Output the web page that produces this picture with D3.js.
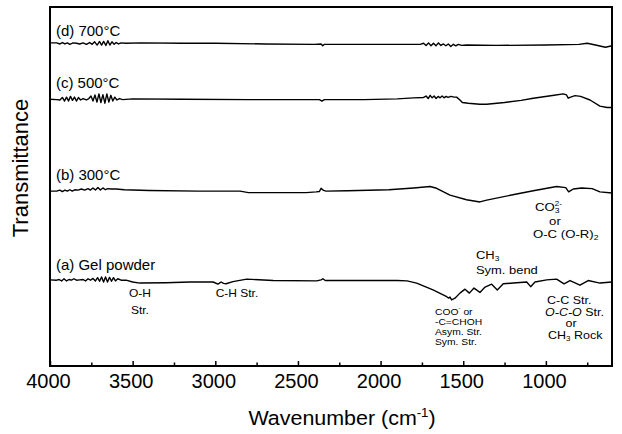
<!DOCTYPE html>
<html>
<head>
<meta charset="utf-8">
<script src="https://cdn.jsdelivr.net/npm/d3@7/dist/d3.min.js"></script>
<style>
  body { margin: 0; background: #fff; }
  svg { font-family: "Liberation Sans", Arial, sans-serif; }
</style>
</head>
<body>
<svg id="grafica" width="622" height="434"></svg>
<script>
// spectra: [wavenumber (cm-1), transmittance (a.u., offset per sample)]
var gelPowder = [
  [4000,24.0],[3960,23.9],[3945,24.1],[3930,23.7],[3915,24.3],[3900,23.7],[3885,24.1],[3870,23.9],
  [3855,24.3],[3840,23.9],[3820,24.0],[3800,24.1],[3785,23.7],[3770,24.3],[3755,23.9],[3740,24.4],
  [3725,23.7],[3712,24.6],[3700,23.6],[3688,24.8],[3676,23.4],[3664,24.8],[3652,23.4],[3640,24.7],
  [3628,23.6],[3616,24.6],[3604,23.7],[3590,24.3],[3570,23.9],[3540,23.9],[3500,23.4],[3456,23.1],
  [3300,23.2],[3153,23.4],[3013,23.4],[2984,22.8],[2965,23.4],[2950,23.0],[2935,22.9],[2893,23.5],
  [2810,24.2],[2650,23.8],[2386,23.7],[2360,24.0],[2349,24.3],[2335,23.8],[2100,23.8],[1900,23.8],
  [1840,23.7],[1782,23.1],[1683,21.2],[1600,19.3],[1588,18.9],[1580,19.2],[1570,18.4],[1550,18.9],
  [1520,20.3],[1489,21.4],[1463,20.3],[1435,21.7],[1399,20.5],[1368,22.0],[1328,22.8],[1294,21.2],
  [1258,22.9],[1197,23.1],[1116,23.4],[1092,22.1],[1066,23.4],[995,24.0],[935,24.2],[890,22.9],
  [854,23.8],[794,22.5],[744,23.8],[673,23.1],[600,23.4]
];
var heat300 = [
  [4000,48.7],[3960,48.7],[3940,49.0],[3925,48.6],[3910,49.0],[3895,48.7],[3880,49.1],[3865,48.7],
  [3850,49.1],[3830,49.0],[3810,49.3],[3790,49.0],[3770,49.4],[3755,49.0],[3740,49.6],[3725,49.0],
  [3710,49.7],[3695,49.0],[3680,49.6],[3665,49.1],[3650,49.4],[3630,49.3],[3600,49.3],[3550,49.1],
  [3400,48.9],[3100,48.7],[2850,48.7],[2800,48.3],[2450,48.3],[2390,48.5],[2370,48.6],[2360,49.5],
  [2345,48.9],[2330,48.7],[2200,48.8],[1950,49.1],[1800,49.6],[1701,50.0],[1661,49.5],[1580,47.6],
  [1480,46.3],[1399,45.7],[1358,46.2],[1177,47.9],[1076,48.8],[935,50.0],[880,49.7],[862,48.5],
  [848,48.9],[834,49.3],[784,49.6],[720,49.4],[673,48.5],[600,48.2]
];
var heat500 = [
  [4000,74.3],[3960,74.2],[3940,74.1],[3925,74.8],[3912,73.8],[3900,74.9],[3888,73.8],[3876,75.1],
  [3864,74.0],[3852,74.9],[3840,73.8],[3828,74.8],[3815,74.1],[3800,74.5],[3780,74.1],[3765,74.5],
  [3752,75.2],[3740,73.8],[3728,75.5],[3716,73.5],[3704,75.8],[3692,73.4],[3680,75.6],[3668,73.2],
  [3656,75.8],[3644,73.5],[3632,75.4],[3620,73.8],[3608,74.9],[3595,74.1],[3580,74.5],[3560,74.2],
  [3500,74.4],[3200,74.3],[2800,74.2],[2500,74.2],[2370,74.2],[2355,73.8],[2340,74.2],[2100,74.2],
  [1900,74.4],[1800,74.7],[1740,74.8],[1725,75.2],[1712,74.5],[1700,75.4],[1688,74.7],[1676,75.2],
  [1664,74.5],[1652,75.1],[1640,74.7],[1628,75.2],[1616,74.7],[1604,75.1],[1592,74.8],[1575,75.1],
  [1555,74.9],[1540,74.9],[1520,74.1],[1505,73.4],[1470,73.2],[1400,72.9],[1358,72.9],[1250,73.4],
  [1150,74.0],[1076,74.6],[950,75.4],[895,75.8],[875,75.5],[865,74.6],[850,74.9],[824,75.3],
  [790,75.1],[733,74.1],[673,72.4],[630,72.0],[600,72.0]
];
var heat700 = [
  [4000,90.0],[3960,90.0],[3940,89.7],[3925,90.1],[3910,89.7],[3895,90.0],[3880,89.6],[3860,90.0],
  [3840,89.9],[3820,89.7],[3800,90.0],[3780,89.6],[3760,90.1],[3745,89.6],[3730,90.3],[3715,89.4],
  [3700,90.4],[3688,89.4],[3675,90.4],[3662,89.3],[3650,90.6],[3638,89.4],[3625,90.3],[3612,89.6],
  [3600,90.1],[3585,89.7],[3570,90.0],[3540,89.9],[3450,90.0],[3200,89.9],[3000,89.9],[2700,89.7],
  [2400,89.6],[2360,89.7],[2350,89.2],[2340,89.6],[2100,89.6],[1900,89.6],[1760,89.6],[1740,89.9],
  [1725,89.3],[1710,90.0],[1695,89.2],[1680,89.9],[1665,89.2],[1650,90.0],[1635,89.3],[1620,89.7],
  [1605,89.2],[1590,89.7],[1575,89.0],[1560,89.6],[1545,89.2],[1530,89.6],[1510,89.3],[1480,89.4],
  [1300,89.3],[1000,89.4],[800,89.6],[750,89.9],[700,89.4],[640,88.8],[600,89.2]
];

var seriesNames = ["(a) Gel powder", "(b) 300\u00B0C", "(c) 500\u00B0C", "(d) 700\u00B0C"];
var seriesData = [gelPowder, heat300, heat500, heat700];

var majorTicks = [4000, 3500, 3000, 2500, 2000, 1500, 1000];
var minorTicks = [3750, 3250, 2750, 2250, 1750, 1250, 750];

// band assignments: [wavenumber, transmittance, anchor, size, text]  (_x sub, ^x sup, *x* italic)
var bandNotes = [
  [3456, 19.2, "middle", 10, "O-H"],
  [3456, 14.5, "middle", 10, "Str."],
  [2869, 19.2, "middle", 10, "C-H Str."],
  [1423, 29.8, "start", 10.8, "CH_3"],
  [1423, 25.6, "start", 10.8, "Sym. bend"],
  [1066, 43.2, "start", 11, "CO_3^2-"],
  [945, 39.4, "middle", 11, "or"],
  [1078, 35.7, "start", 11, "O-C (O-R)_2"],
  [1671, 14.2, "start", 8.6, "COO^- or"],
  [1671, 11.4, "start", 8.6, "-C=CHOH"],
  [1671, 8.6, "start", 8.6, "Asym. Str."],
  [1671, 5.8, "start", 8.6, "Sym. Str."],
  [993, 17.3, "start", 10.4, "C-C Str."],
  [1005, 14.0, "start", 10.4, "*O-C-O* Str."],
  [848, 10.8, "middle", 10.4, "or"],
  [987, 7.4, "start", 10.4, "CH_3 Rock"]
];

var svg = d3.select("#grafica"),
    margin = {top: 7, right: 10, bottom: 68, left: 50},
    width = +svg.attr("width"),
    height = +svg.attr("height");

var x = d3.scaleLinear()
  .domain([4000, 600])
  .range([margin.left, width - margin.right])

var y = d3.scaleLinear()
  .domain([0, 100])
  .range([height - margin.bottom, margin.top])

var line = d3.line()
  .x(d => x(d[0]))
  .y(d => y(d[1]))

svg.selectAll(".spectrum")
  .data(seriesData)
  .enter().append("path")
    .attr("class", "spectrum")
    .attr("fill", "none")
    .attr("stroke", "#000")
    .attr("stroke-width", 1.4)
    .attr("stroke-linejoin", "round")
    .attr("d", line)

// sample labels sit just above the start of each trace
var labelGap = [9.5, 11, 11, 7]
svg.selectAll(".name")
  .data(seriesNames)
  .enter().append("text")
    .attr("class", "name")
    .attr("x", x(3964))
    .attr("y", (d, i) => y(seriesData[i][0][1]) - labelGap[i])
    .attr("font-size", 15)
    .text(d => d)

// bottom axis, ticks pointing into the frame
var xAxis = svg.append("g")
  .attr("transform", `translate(0,${height - margin.bottom})`)
  .call(d3.axisBottom(x).tickValues(majorTicks).tickSizeInner(-5).tickSizeOuter(0).tickPadding(8).tickFormat(d3.format("d")))

xAxis.select(".domain").remove()
xAxis.selectAll("line").attr("stroke-width", 1.5)
xAxis.selectAll("text")
  .attr("font-size", 20)
  .attr("font-family", "Liberation Sans, Arial, sans-serif")
  .attr("fill", "#000")
  .attr("dx", -2)

var xMinor = svg.append("g")
  .attr("transform", `translate(0,${height - margin.bottom})`)
  .call(d3.axisBottom(x).tickValues(minorTicks).tickSizeInner(-3.5).tickSizeOuter(0).tickFormat(""))
xMinor.select(".domain").remove()
xMinor.selectAll("line").attr("stroke-width", 1.5)

svg.append("rect")
  .attr("x", x(4000))
  .attr("y", y(100))
  .attr("width", x(600) - x(4000))
  .attr("height", y(0) - y(100))
  .attr("fill", "none")
  .attr("stroke", "#000")
  .attr("stroke-width", 2)

// band notes: the scan is a bit wide, so stretch text horizontally
var stretch = 1.2
bandNotes.forEach(function(n) {
  var t = svg.append("text")
    .attr("transform", `translate(${x(n[0])},${y(n[1])}) scale(${stretch},1)`)
    .attr("text-anchor", n[2])
    .attr("font-size", n[3])
  var parts = n[4].match(/_[^ ^]+|\^[^ ]+|\*[^*]+\*|[^_^*]+/g)
  var shift = 0
  parts.forEach(function(p) {
    if (p[0] == "_") {
      t.append("tspan").attr("dy", 2 - shift).attr("font-size", n[3] * 0.65).text(p.slice(1))
      shift = 2
    } else if (p[0] == "^") {
      var dx = shift > 0 ? -n[3] * 0.36 : 0
      t.append("tspan").attr("dx", dx).attr("dy", -5 - shift).attr("font-size", n[3] * 0.6).text(p.slice(1))
      shift = -5
    } else if (p[0] == "*") {
      t.append("tspan").attr("dy", -shift).attr("font-style", "italic").text(p.slice(1, -1))
      shift = 0
    } else {
      t.append("tspan").attr("dy", -shift).text(p)
      shift = 0
    }
  })
})

var title = svg.append("text")
  .attr("transform", "translate(342,425) scale(1.1,1)")
  .attr("text-anchor", "middle")
  .attr("font-size", 19.5)
title.append("tspan").text("Wavenumber (cm")
title.append("tspan").attr("dy", -8).attr("font-size", 12).text("-1")
title.append("tspan").attr("dy", 8).text(")")

svg.append("text")
  .attr("transform", "translate(28,168) rotate(-90)")
  .attr("text-anchor", "middle")
  .attr("font-size", 22)
  .text("Transmittance")
</script>
</body>
</html>
